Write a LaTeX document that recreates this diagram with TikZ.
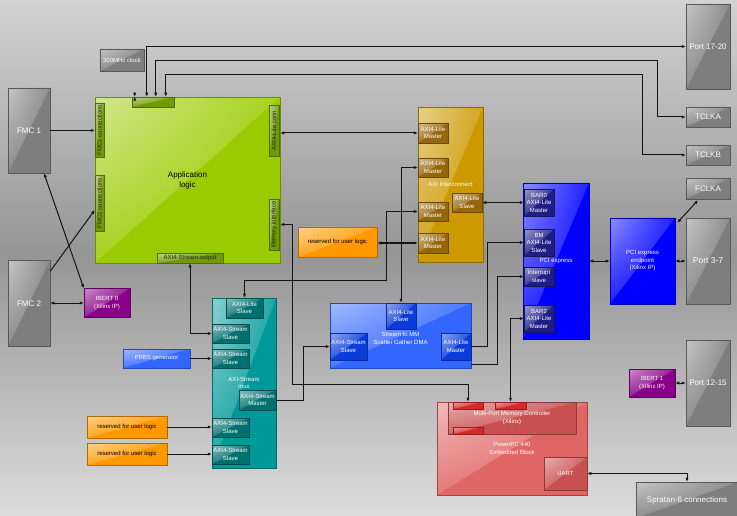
\documentclass[tikz,border=0pt]{standalone}
\usepackage{fontspec}
\setmainfont{Liberation Sans}
\usetikzlibrary{arrows.meta,calc,shadings}
\definecolor{BgTop}{HTML}{D2D2D2}
\definecolor{BgMid}{HTML}{959595}
\definecolor{BgBot}{HTML}{DCDCDC}
\definecolor{PortGray}{HTML}{7E7E7E}
\definecolor{AppGreen}{HTML}{99CC00}
\definecolor{AppTab}{HTML}{6F9A00}
\definecolor{XGold}{HTML}{CC9900}
\definecolor{XTab}{HTML}{96670A}
\definecolor{PcieBlue}{HTML}{0000FF}
\definecolor{PcieTab}{HTML}{1E1E86}
\definecolor{MuxTeal}{HTML}{009999}
\definecolor{MuxTab}{HTML}{006F6F}
\definecolor{DmaBlue}{HTML}{3366FF}
\definecolor{DmaTab}{HTML}{0A3CDC}
\definecolor{UserOrange}{HTML}{FF9900}
\definecolor{IbertPurple}{HTML}{880088}
\definecolor{PpcRed}{HTML}{E06666}
\definecolor{PpcDark}{HTML}{C85050}
\definecolor{PpcTab}{HTML}{D42A2A}
\definecolor{Wire}{HTML}{141414}

\begin{document}
\begin{tikzpicture}[
  x=1pt, y=-1pt,
  every node/.style={inner sep=0pt, align=center,
                     font=\fontsize{6}{7.5}\selectfont},
  wh/.style 2 args={minimum width=#1pt, minimum height=#2pt},
  box/.style={draw=#1!70!black, line width=0.5pt, fill=#1, text=white,
    path picture={\shade[upper left=#1!45!white, upper right=#1!88!white,
        lower left=#1!88!white, lower right=#1]
      (path picture bounding box.north west)
      -- (path picture bounding box.north east)
      -- (path picture bounding box.south west) -- cycle;}},
  port/.style={box=PortGray, font=\fontsize{8}{9.5}\selectfont},
  apptab/.style={box=AppTab, text=black!85},
  xtab/.style={box=XTab},
  ptab/.style={box=PcieTab},
  mtab/.style={box=MuxTab},
  dtab/.style={box=DmaTab},
  rtab/.style={box=PpcTab},
  user/.style={box=UserOrange, text=black},
  wire/.style={draw=Wire, line width=1pt},
  arr/.style={wire, -{Latex[length=4pt,width=3.4pt]}},
  dbl/.style={wire, {Latex[length=4pt,width=3.4pt]}-{Latex[length=4pt,width=3.4pt]}},
]

%% ── Background ───────────────────────────────
\shade[top color=BgTop, bottom color=BgMid] (0,0) rectangle (737,255);
\shade[top color=BgMid, bottom color=BgBot] (0,255) rectangle (737,516);
\useasboundingbox (0,0) rectangle (737,516);

%% ── Ports and clocks ─────────────────────────
\node[port, wh={44}{85}] at (708,46.5) (p1720) {Port 17-20};
\node[port, wh={44}{20}] at (708,117) (tclka) {TCLKA};
\node[port, wh={44}{20}] at (708,155) (tclkb) {TCLKB};
\node[port, wh={44}{21}] at (708,188.5) (fclka) {FCLKA};
\node[port, wh={44}{86}, font=\fontsize{8.5}{10}\selectfont] at (708,261) (p37) {Port 3-7};
\node[port, wh={44}{86}] at (708,383) (p1215) {Port 12-15};
\node[port, wh={102}{36}] at (687,500) (s6) {Spratan-6 connections};
\node[port, wh={42}{85}] at (29,130.5) (fmc1) {FMC 1};
\node[port, wh={42}{86}] at (29,303.5) (fmc2) {FMC 2};
\node[port, wh={44}{22}, font=\fontsize{6}{7}\selectfont] at (122,60) (clk) {200MHz clock};

%% ── IBERT cores ──────────────────────────────
\node[box=IbertPurple, wh={46}{29}] at (107,303) (ibert0) {IBERT 0\\(Xilinx IP)};
\node[box=IbertPurple, wh={46}{28}] at (652,383) (ibert1) {IBERT 1\\(Xilinx IP)};

%% ── Application logic ────────────────────────
\node[box=AppGreen, text=black, wh={185}{166}, font=\fontsize{8}{10}\selectfont]
      at (187.5,180) (app) {Application\\logic};
\node[apptab, wh={42}{10}] at (153,102) (apptop) {};
\node[apptab, wh={54}{9}, rotate=90] at (99.5,130) (fmc1c) {FMC1 connections};
\node[apptab, wh={56}{9}, rotate=90] at (99.5,203) (fmc2c) {FMC2 connections};
\node[apptab, wh={51}{10}, rotate=90] at (274,130.5) (axiconn) {AXI4-Lite conn};
\node[apptab, wh={51}{10}, rotate=90] at (274,224.5) (memif) {Memory interface};
\node[apptab, wh={66}{10}] at (190,258) (strout) {AXI4-Stream output};

%% ── AXI interconnect ─────────────────────────
\node[box=XGold, wh={65}{155}] at (450.5,184.5) (xbar) {AXI Interconnect};
\node[xtab, wh={30}{20}] at (433,133)   (m1) {AXI4-Lite\\Master};
\node[xtab, wh={30}{19}] at (433,167.5) (m2) {AXI4-Lite\\Master};
\node[xtab, wh={30}{19}] at (467,202.5) (sl) {AXI4-Lite\\Slave};
\node[xtab, wh={30}{19}] at (433,211.5) (m3) {AXI4-Lite\\Master};
\node[xtab, wh={30}{20}] at (433,243)   (m4) {AXI4-Lite\\Master};
\node[user, wh={79}{30}] at (337.5,242) (res1) {reserved for user logic};

%% ── PCI express ──────────────────────────────
\node[box=PcieBlue, wh={66}{156}] at (556,261) (pcie) {PCI express};
\node[ptab, wh={30}{27}] at (539,202.5) (bar0) {BAR0\\AXI4-Lite\\Master};
\node[ptab, wh={30}{27}] at (539,242.5) (bm)   {BM\\AXI4-Lite\\Slave};
\node[ptab, wh={30}{19}] at (539,276.5) (irq)  {Interrupt\\slave};
\node[ptab, wh={30}{27}] at (539,318.5) (bar2) {BAR2\\AXI4-Lite\\Master};
\node[box=PcieBlue, wh={65}{86}] at (642.5,261) (ep) {PCI express\\endpoint\\(Xilinx IP)};

%% ── AXI-Stream mux and sources ───────────────
\node[box=MuxTeal, wh={64}{170}] at (244,383) (mux) {AXI-Stream\\mux};
\node[mtab, wh={37}{20}] at (244.5,308) (mlite) {AXI4-Lite\\Slave};
\node[mtab, wh={37}{19}] at (230.5,333.5) (ms1) {AXI4-Stream\\Slave};
\node[mtab, wh={37}{19}] at (230.5,358.5) (ms2) {AXI4-Stream\\Slave};
\node[mtab, wh={37}{20}] at (257.5,400) (mm)  {AXI4-Stream\\Master};
\node[mtab, wh={37}{19}] at (230.5,427.5) (ms3) {AXI4-Stream\\Slave};
\node[mtab, wh={37}{19}] at (230.5,454.5) (ms4) {AXI4-Stream\\Slave};
\node[box=DmaBlue, wh={67}{19}] at (156.5,358.5) (prbs) {PRBS generator};
\node[user, wh={80}{22}] at (127,427) (res2) {reserved for user logic};
\node[user, wh={80}{22}] at (127,454) (res3) {reserved for user logic};

%% ── DMA ──────────────────────────────────────
\node[box=DmaBlue, wh={141}{65},
      label={[text=white, yshift=-3pt]center:Stream to MM\\Scatter Gather DMA}]
      at (400.5,335.5) (dma) {};
\node[dtab, wh={30}{26}] at (401,316)     (dlite) {AXI4-Lite\\Slave};
\node[dtab, wh={37}{27}] at (348.5,346.5) (dss)   {AXI4-Stream\\Slave};
\node[dtab, wh={30}{27}] at (456,346.5)   (dlm)   {AXI4-Lite\\Master};

%% ── PowerPC block ────────────────────────────
\node[box=PpcRed, wh={150}{93}] at (512,448.5) (ppc) {PowerPC 440\\Embedded Block};
\node[box=PpcDark, wh={128}{32}] at (512,418) (mpmc) {Multi-Port Memory Controller\\(Xilinx)};
\node[rtab, wh={30}{7}] at (468,405.5)   (mp1) {};
\node[rtab, wh={31}{7}] at (510.5,405.5) (mp2) {};
\node[rtab, wh={30}{7}] at (468,430.5)   (mp3) {};
\node[box=PpcDark, wh={43}{33}] at (565.5,473.5) (uart) {UART};

%% ── Clock and trigger lines ──────────────────
\draw[dbl] ($(apptop.north west)+(3,0)$) -- ($(apptop.north west)+(3,0)$ |- clk.south);
\draw[dbl] ($(apptop.north west)+(15,0)$) |- (p1720.west);
\draw[dbl] ($(apptop.north west)+(24,0)$) -- ++(0,-36)
    -| ($(tclka.west)+(-28,0)$) -- (tclka.west);
\draw[dbl] ($(apptop.north west)+(34,0)$) -- ++(0,-22)
    -| ($(tclkb.west)+(-43,0)$) -- (tclkb.west);

%% ── FMC / IBERT ──────────────────────────────
\draw[arr] (fmc1.east) -- (fmc1.east -| app.west);
\draw[arr] ($(fmc2.north east)+(0,11)$) -- ($(fmc2c.north)+(0,7)$);
\draw[dbl] (ibert0.north west) -- ($(fmc1.south)+(15,0)$);
\draw[dbl] (ibert0.west) -- (ibert0.west -| fmc2.east);

%% ── AXI4-Lite bus ────────────────────────────
\draw[dbl] (m1.west) -- (m1.west -| app.east);
\draw[dbl] (m2.west) -| (dlite.north);
\draw[dbl] (m3.west) -- ++(-31,0) |- ($(mlite.north)+(0,-17)$) -- (mlite.north);
\draw[dbl] (m4.west) -- (m4.west -| res1.east);
\draw[dbl] (sl.east) -- (sl.east -| bar0.west);

%% ── Streams ──────────────────────────────────
\draw[dbl] (strout.south) |- (ms1.west);
\draw[arr] (prbs.east) -- (ms2.west);
\draw[arr] (res2.east) -- (res2.east -| ms3.west);
\draw[arr] (res3.east) -- (res3.east -| ms4.west);
\draw[arr] (mm.east) -- ++(27,0) |- (dss.west);

%% ── DMA -> PCI express ───────────────────────
\draw[arr] (dlm.east) -- ++(16,0) |- (bm.west);
\draw[arr] ($(dma.south east)+(0,-4)$) -- ++(26,0) |- (irq.west);

%% ── Memory paths ─────────────────────────────
\draw[dbl] (app.east |- memif) -- ++(12,0) |- ($(mp1.north)+(0,-17)$) -- (mp1.north);
\draw[dbl] (bar2.west) -| (mp2.north);

%% ── External links ───────────────────────────
\draw[dbl] (pcie.east) -- (ep.west);
\draw[dbl] ($(ep.north east)+(2,5)$) -- ($(fclka.south)+(-10,1)$);
\draw[dbl] (ep.east) -- (p37.west);
\draw[dbl] (ibert1.east) -- (p1215.west);
\draw[dbl] (uart.east) -| (s6.north);

\end{tikzpicture}
\end{document}
